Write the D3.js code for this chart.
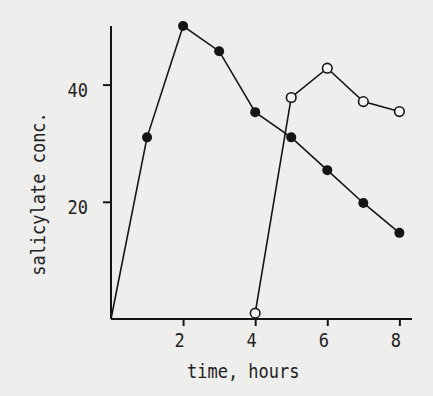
<!DOCTYPE html>
<html>
<head>
<meta charset="utf-8">
<script src="https://cdn.jsdelivr.net/npm/d3@7/dist/d3.min.js"></script>
<style>
  body { margin: 0; background: #eeeeec; }
  svg { display: block; }
  text { font-family: "DejaVu Sans Mono", monospace; fill: #222; }
</style>
</head>
<body>
<svg id="chart"></svg>
<script>
// filled circles (line starts at the origin, no marker there)
const filledTimes = [0, 1, 2, 3, 4, 5, 6, 7, 8];
const filledConc = [0, 31, 50, 45.7, 35.3, 31, 25.4, 19.8, 14.7];
// open circles
const openTimes = [4, 5, 6, 7, 8];
const openConc = [1, 37.8, 42.8, 37.1, 35.4];

const xTicks = [2, 4, 6, 8];
const yTicks = [20, 40];

const width = 433, height = 396;
const svg = d3.select('#chart')
  .attr('width', width)
  .attr('height', height);

const x = d3.scaleLinear().domain([0, 8.35]).range([111, 412]);
const y = d3.scaleLinear().domain([0, 50]).range([319, 26]);

const ink = '#151515';
const tall = 'scale(1,1.18)'; // the typewriter glyphs are taller than DejaVu's

// axes
const xAxis = svg.append('g')
  .attr('transform', `translate(0,${y(0)})`)
  .call(d3.axisBottom(x).tickValues(xTicks).tickSize(7).tickFormat(d3.format('d')));
const yAxis = svg.append('g')
  .attr('transform', `translate(${x(0)},0)`)
  .call(d3.axisLeft(y).tickValues(yTicks).tickSize(8).tickFormat(d3.format('d')));

[xAxis, yAxis].forEach(g => {
  g.select('.domain').attr('stroke', ink).attr('stroke-width', 2);
  g.selectAll('.tick line').attr('stroke', ink).attr('stroke-width', 2);
  g.selectAll('.tick text').style('font-size', '17px').attr('fill', '#222')
    .attr('x', null).attr('y', null).attr('dy', null);
});
xAxis.selectAll('.tick text')
  .attr('text-anchor', 'middle')
  .attr('transform', `translate(-4,28) ${tall}`);
yAxis.selectAll('.tick text')
  .attr('text-anchor', 'end')
  .attr('transform', `translate(-23,12) ${tall}`);

// plain lines without end caps
xAxis.select('.domain').attr('d', `M${x(0)},0H${x.range()[1]}`);
yAxis.select('.domain').attr('d', `M0,${y(0)}V${y.range()[1]}`);

// axis titles
svg.append('text')
  .attr('transform', `translate(187,378) ${tall}`)
  .attr('text-anchor', 'start')
  .style('font-size', '17px')
  .text('time, hours');

svg.append('text')
  .attr('transform', `translate(45,194) rotate(-90) ${tall}`)
  .attr('text-anchor', 'middle')
  .style('font-size', '17px')
  .text('salicylate conc.');

const line = d3.line().x(d => x(d[0])).y(d => y(d[1]));

const filled = filledTimes.map((t, i) => [t, filledConc[i]]);
const open = openTimes.map((t, i) => [t, openConc[i]]);

svg.append('path')
  .datum(filled)
  .attr('d', line)
  .attr('fill', 'none')
  .attr('stroke', ink)
  .attr('stroke-width', 1.6);

svg.append('path')
  .datum(open)
  .attr('d', line)
  .attr('fill', 'none')
  .attr('stroke', ink)
  .attr('stroke-width', 1.6);

svg.selectAll('circle.filled')
  .data(filled.slice(1))
  .enter()
  .append('circle')
  .attr('class', 'filled')
  .attr('cx', d => x(d[0]))
  .attr('cy', d => y(d[1]))
  .attr('r', 5)
  .attr('fill', ink);

svg.selectAll('circle.open')
  .data(open)
  .enter()
  .append('circle')
  .attr('class', 'open')
  .attr('cx', d => x(d[0]))
  .attr('cy', d => y(d[1]))
  .attr('r', 4.8)
  .attr('fill', '#f4f4f2')
  .attr('stroke', ink)
  .attr('stroke-width', 1.6);
</script>
</body>
</html>
